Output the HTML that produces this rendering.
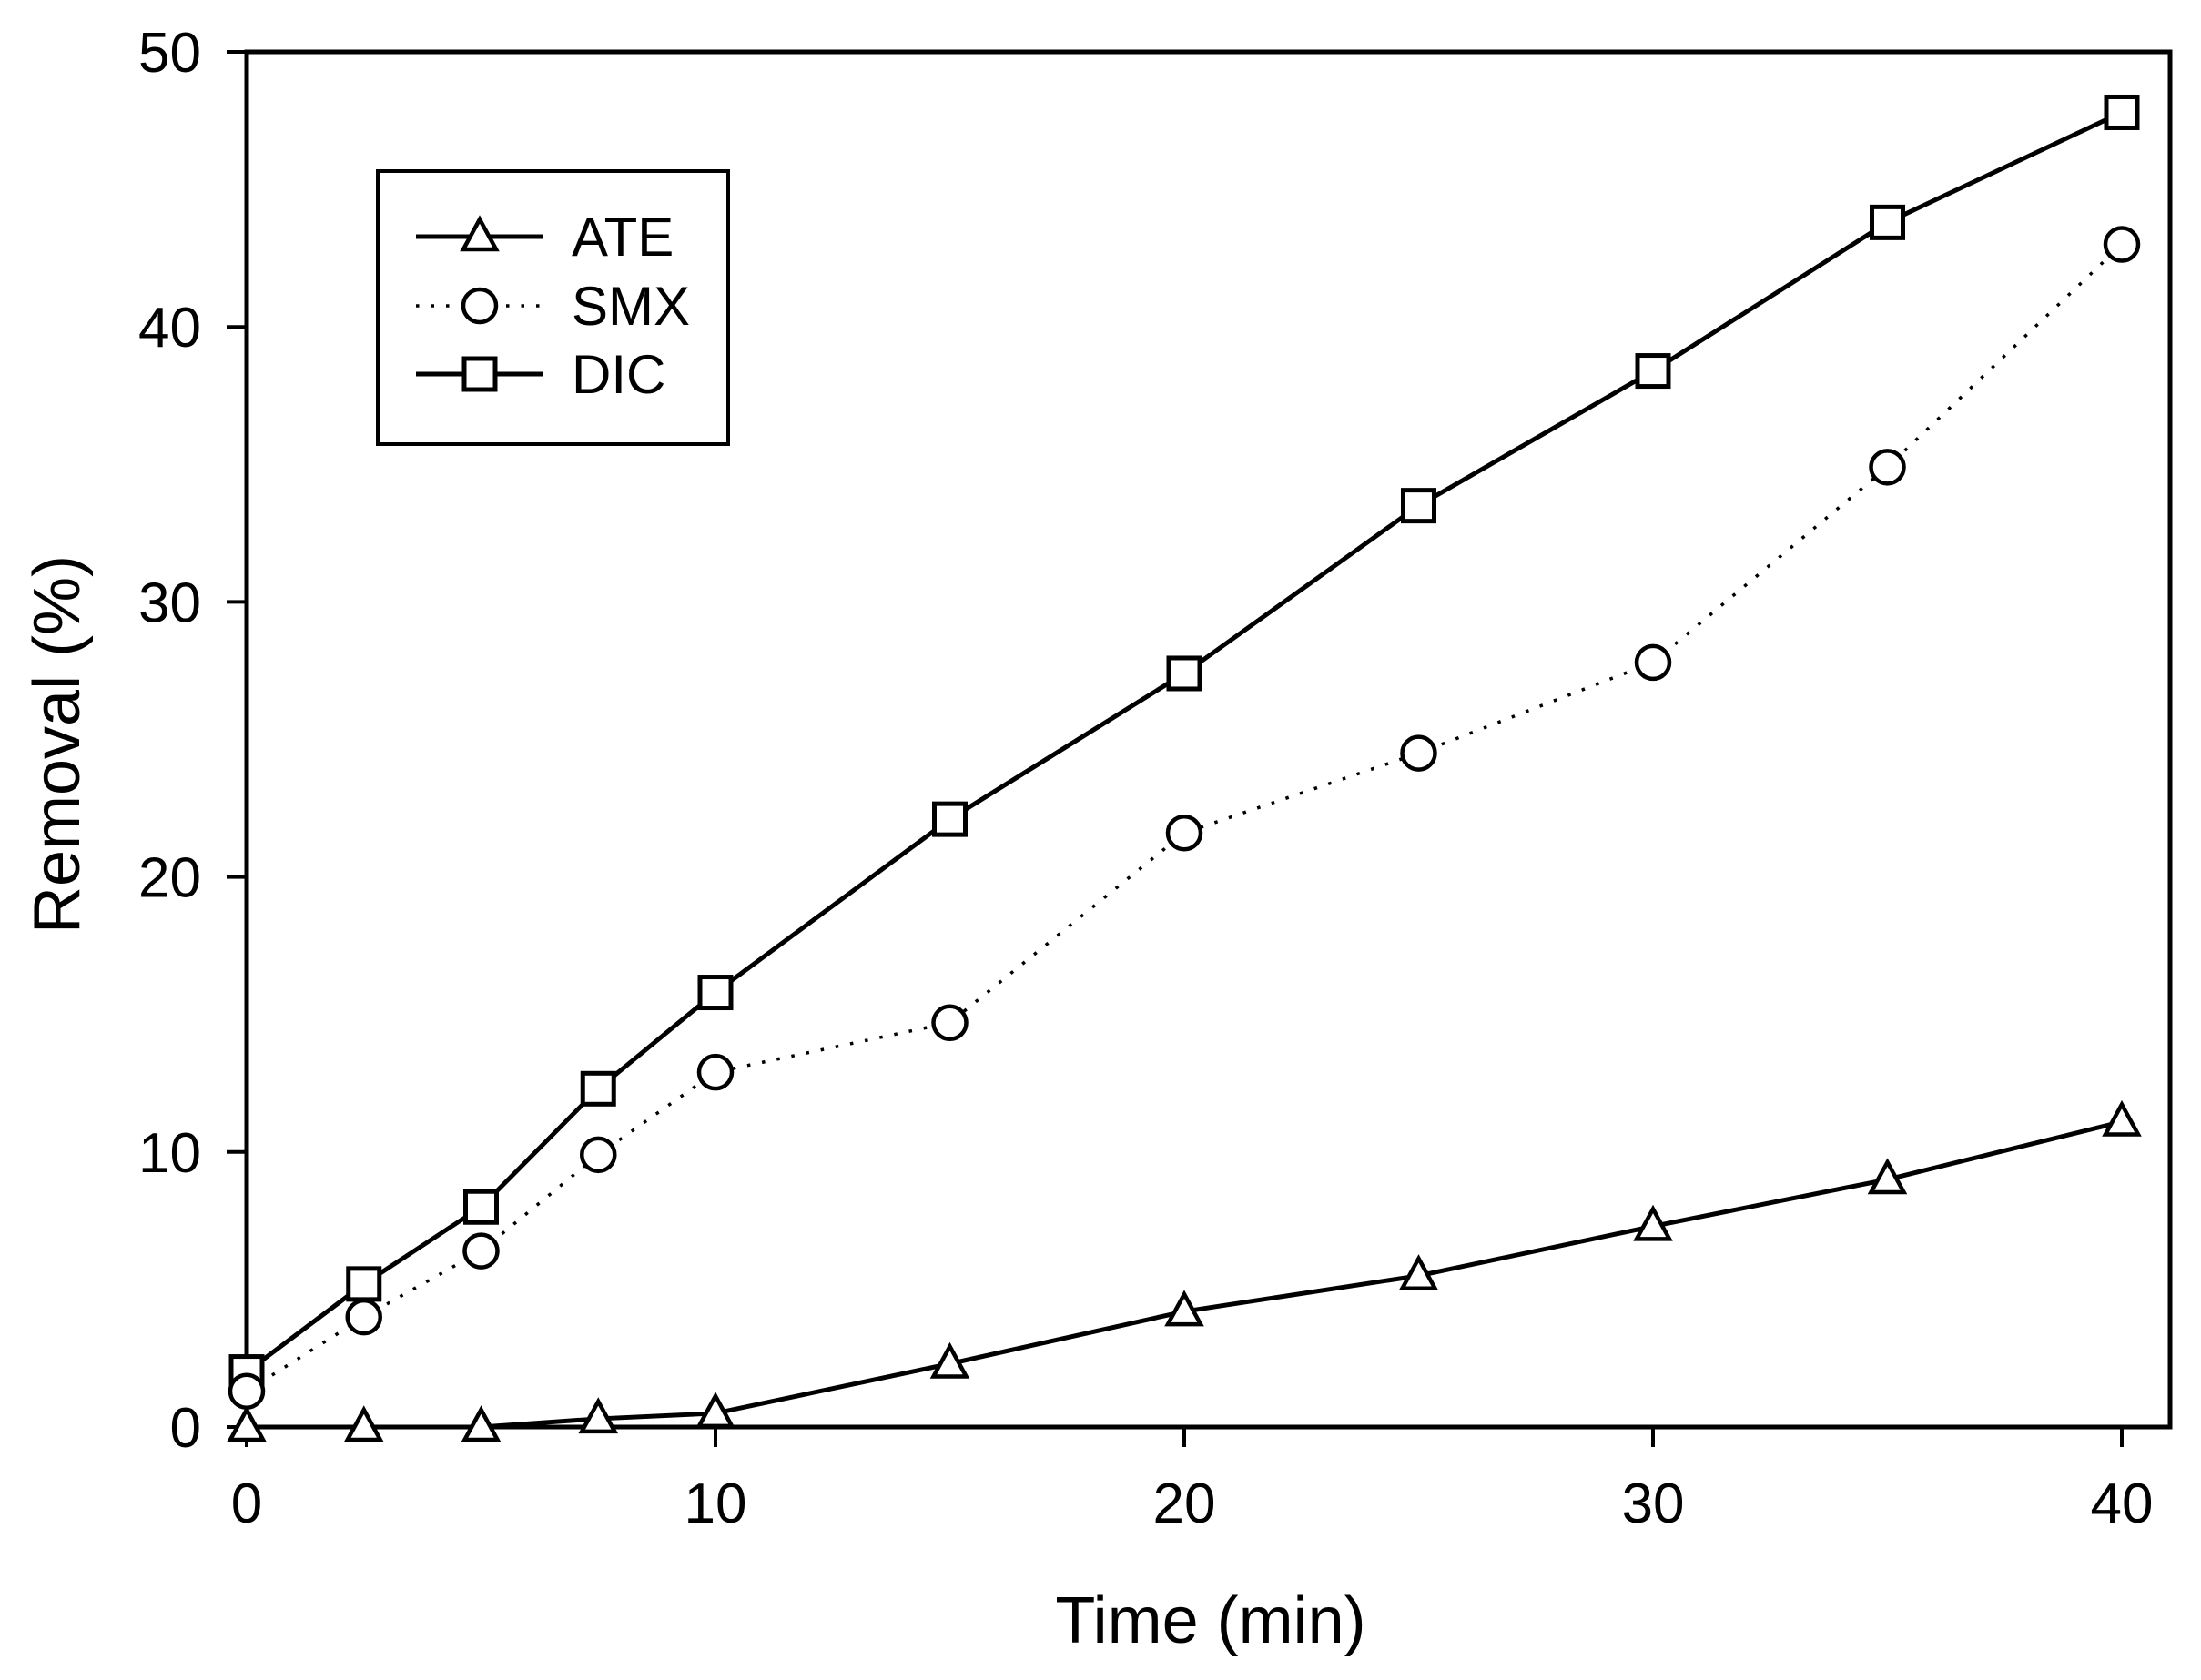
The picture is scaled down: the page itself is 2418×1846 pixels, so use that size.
<!DOCTYPE html>
<html><head><meta charset="utf-8"><style>body{margin:0;background:#fff}svg{display:block}text{font-family:"Liberation Sans",Arial,sans-serif;fill:#000}</style></head>
<body>
<svg id="chart" width="2418" height="1846" viewBox="0 0 2418 1846"></svg>
<script>
const times=[0,2.5,5,7.5,10,15,20,25,30,35,40];
const ate=[0,0,0,0.3,0.5,2.3,4.2,5.5,7.3,9.0,11.1];
const smx=[1.3,4.0,6.4,9.9,12.9,14.7,21.6,24.5,27.8,34.9,43.0];
const dic=[2.0,5.2,8.0,12.3,15.8,22.1,27.4,33.5,38.4,43.8,47.8];
const xTicks=[0,10,20,30,40];
const yTicks=[0,10,20,30,40,50];
const L=271,R=2384,T=57,B=1568;
const X=v=>L+v*(2331-L)/40;
const Y=v=>B-v*(B-T)/50;
const svg=document.getElementById('chart');
const NS='http://www.w3.org/2000/svg';
function mk(tag,attrs,parent){const e=document.createElementNS(NS,tag);for(const k in attrs)e.setAttribute(k,attrs[k]);(parent||svg).appendChild(e);return e;}
let frame=mk('rect',{x:L,y:T,width:R-L,height:B-T,fill:'none',stroke:'#000','stroke-width':5});


xTicks.forEach(v=>{
 let t=mk('line',{x1:X(v),x2:X(v),y1:B,y2:B+22,stroke:'#000','stroke-width':4});
 
 
 let l=mk('text',{x:X(v),y:B+105,'font-size':62,'text-anchor':'middle'});l.textContent=v;
 
 
});
yTicks.forEach(v=>{
 let t=mk('line',{x1:L-22,x2:L,y1:Y(v),y2:Y(v),stroke:'#000','stroke-width':4});
 
 
 let l=mk('text',{x:L-50,y:Y(v)+22,'font-size':62,'text-anchor':'end'});l.textContent=v;
 
 
});
let xt=mk('text',{x:1330,y:1805,'font-size':72,'text-anchor':'middle'});xt.textContent='Time (min)';


let yt=mk('text',{x:0,y:0,'font-size':72,'text-anchor':'middle',transform:'translate(87,818) rotate(-90)'});yt.textContent='Removal (%)';


function marker(type,cx,cy,g){
 if(type==='tri')return mk('polygon',{points:`${cx},${cy-19} ${cx-18},${cy+14} ${cx+18},${cy+14}`,fill:'#fff',stroke:'#000','stroke-width':4.5},g);
 if(type==='circ')return mk('circle',{cx:cx,cy:cy,r:18,fill:'#fff',stroke:'#000','stroke-width':4.5},g);
 return mk('rect',{x:cx-17,y:cy-17,width:34,height:34,fill:'#fff',stroke:'#000','stroke-width':5},g);
}
function series(name,vals,type,dash){
 const g=mk('g',{});
 
 
 const pts=times.map((t,i)=>X(t)+','+Y(vals[i])).join(' ');
 const pl=mk('polyline',{points:pts,fill:'none',stroke:'#000','stroke-width':dash?3.5:5,'stroke-dasharray':dash?'3.5 13':'none'},g);
 
 
 times.forEach((t,i)=>{const m=marker(type,X(t),Y(vals[i]),g);
  
  });
}
series('dic',dic,'sq',false);
series('smx',smx,'circ',true);
series('ate',ate,'tri',false);
const lg=mk('g',{});


mk('rect',{x:415,y:188,width:385,height:300,fill:'#fff',stroke:'#000','stroke-width':4},lg);
[['ATE','tri',false,260],['SMX','circ',true,336],['DIC','sq',false,411]].forEach(([n,tp,d,y])=>{
 const e=mk('g',{},lg);
 
 
 mk('line',{x1:457,x2:597,y1:y,y2:y,stroke:'#000','stroke-width':d?3.5:5,'stroke-dasharray':d?'3.5 13':'none'},e);
 marker(tp,527,y,e);
 const t=mk('text',{x:628,y:y+21,'font-size':60},e);t.textContent=n;
});
</script>
</body></html>
